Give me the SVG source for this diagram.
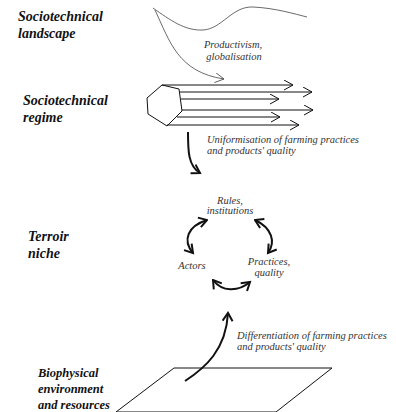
<svg xmlns="http://www.w3.org/2000/svg" width="396" height="412" viewBox="0 0 396 412">
<style>
.h{font-family:'Liberation Serif','Times New Roman',serif;font-weight:bold;font-style:italic;font-size:14px;fill:#111}
.l{font-family:'Liberation Serif','Times New Roman',serif;font-style:italic;font-size:10.5px;fill:#333}
.thin{fill:none;stroke:#444;stroke-width:0.8}
.reg{fill:none;stroke:#111;stroke-width:1}
.bold{fill:none;stroke:#111;stroke-width:2}
</style>
<defs>
<marker id="ah" markerUnits="userSpaceOnUse" markerWidth="12" markerHeight="12" refX="9" refY="5" orient="auto"><path d="M0,0 L9,5 L0,10" fill="none" stroke="#111" stroke-width="1"/></marker>
<marker id="at" markerUnits="userSpaceOnUse" markerWidth="12" markerHeight="12" refX="9" refY="5" orient="auto"><path d="M0,0 L9,5 L0,10" fill="none" stroke="#444" stroke-width="0.8"/></marker>
<marker id="ab" markerUnits="userSpaceOnUse" markerWidth="14" markerHeight="14" refX="9" refY="6" orient="auto"><path d="M1,1 L9,6 L1,11" fill="none" stroke="#111" stroke-width="2"/></marker>
<marker id="abs" markerUnits="userSpaceOnUse" markerWidth="14" markerHeight="14" refX="1" refY="6" orient="auto"><path d="M9,1 L1,6 L9,11" fill="none" stroke="#111" stroke-width="2"/></marker>
</defs>
<g id="landscape">
<text class="h" x="18" y="21">Sociotechnical</text>
<text class="h" x="18" y="38">landscape</text>
<path class="thin" d="M153,8 C170,20 185,31 203,30 C222,29 232,6 253,7 C275,8 295,14 307,17"/>
</g>
<g id="regime">
<text class="h" x="23" y="105">Sociotechnical</text>
<text class="h" x="23" y="122">regime</text>
<polygon class="reg" points="147,98 162,85 179,89 182,111 167,126 148,114"/>
</g>
<g id="niche">
<text class="h" x="28" y="241">Terroir</text>
<text class="h" x="28" y="258">niche</text>
<text class="l" x="230" y="204" text-anchor="middle">Rules,</text>
<text class="l" x="230" y="214" text-anchor="middle">institutions</text>
<text class="l" x="192" y="269" text-anchor="middle">Actors</text>
<text class="l" x="269" y="265" text-anchor="middle">Practices,</text>
<text class="l" x="269" y="276" text-anchor="middle">quality</text>
</g>
<g id="biophysical">
<text class="h" x="38" y="377" style="font-size:12.5px">Biophysical</text>
<text class="h" x="38" y="393" style="font-size:12.5px">environment</text>
<text class="h" x="38" y="409" style="font-size:12.5px">and resources</text>
<polygon class="reg" points="174,368 332,368 276,412 116,412"/>
</g>
<g id="connectors">
<path class="thin" d="M155,10 C170,42 178,72 224,79" marker-end="url(#at)"/>
<text class="l" x="233" y="48" text-anchor="middle">Productivism,</text>
<text class="l" x="234" y="60" text-anchor="middle">globalisation</text>
<path class="reg" d="M162,85 H293" marker-end="url(#ah)"/>
<path class="reg" d="M180,92 H312" marker-end="url(#ah)"/>
<path class="reg" d="M181,99 H279" marker-end="url(#ah)"/>
<path class="reg" d="M182,110 H313" marker-end="url(#ah)"/>
<path class="reg" d="M177,117 H280" marker-end="url(#ah)"/>
<path class="reg" d="M167,125 H299" marker-end="url(#ah)"/>
<path class="bold" d="M188,132 C188,150 188,166 200,173" marker-end="url(#ab)"/>
<text class="l" x="207" y="143">Uniformisation of farming practices</text>
<text class="l" x="207" y="154">and products' quality</text>
<path class="bold" d="M207,220 C188,226 182,240 193,253" marker-start="url(#abs)" marker-end="url(#ab)"/>
<path class="bold" d="M255,220 C272,228 276,242 268,253" marker-start="url(#abs)" marker-end="url(#ab)"/>
<path class="bold" d="M213,280 C222,292 238,292 250,282" marker-start="url(#abs)" marker-end="url(#ab)"/>
<path class="bold" d="M185,381 C205,368 226,350 228,313" marker-end="url(#ab)"/>
<text class="l" x="237" y="339">Differentiation of farming practices</text>
<text class="l" x="237" y="350">and products' quality</text>
</g>
</svg>
